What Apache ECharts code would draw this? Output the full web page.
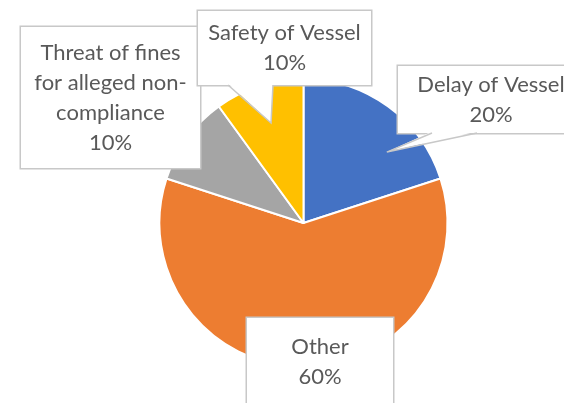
<!DOCTYPE html>
<html>
<head>
<meta charset="utf-8">
<script src="https://cdn.jsdelivr.net/npm/echarts@6/dist/echarts.min.js"></script>
<style>
  html, body { margin: 0; padding: 0; background: #fff; }
  #chart { width: 564px; height: 403px; }
</style>
</head>
<body>
<div id="chart"></div>
<script>
const categories = ["Delay of Vessel", "Other", "Threat of fines for alleged non-compliance", "Safety of Vessel"];
const labelTexts = ["Delay of Vessel", "Other", "Threat of fines\nfor alleged non-\ncompliance", "Safety of Vessel"];
const shares = [20, 60, 10, 10];
const colors = ["#4472C4", "#ED7D31", "#A5A5A5", "#FFC000"];

const CENTER = [303.5, 223];
const RADIUS = 144;
const LINE_H = 30;
const BOX_BORDER = "#C8C8C8";

// callout boxes (left, top, width, height, padding top/bottom) and pointer wedge
const callouts = [
  { left: 398, top: 66, w: 186, h: 67, pad: [5, 2], pointer: { turn: 13.6, depth: 0.76, base: [34, 79] } },
  { left: 247, top: 318, w: 146, h: 87, pad: [15, 12] },
  { left: 21, top: 27, w: 179, h: 141, pad: [16, 5] },
  { left: 198, top: 11, w: 173, h: 74, pad: [8, 6], pointer: { turn: 0, depth: 0.73, base: [30, 75] } }
];

// middle angle of each slice, starting at 12 o'clock going clockwise
const total = shares.reduce((a, b) => a + b, 0);
const midAngles = [];
shares.reduce((acc, v) => {
  midAngles.push(-Math.PI / 2 + 2 * Math.PI * (acc + v / 2) / total);
  return acc + v;
}, 0);

// callout wedges: white fill, grey sides, tip inside the slice
const pointers = [];
callouts.forEach((c, i) => {
  if (!c.pointer) return;
  const ang = midAngles[i] + c.pointer.turn * Math.PI / 180;
  const r = RADIUS * c.pointer.depth;
  const tip = [CENTER[0] + Math.cos(ang) * r, CENTER[1] + Math.sin(ang) * r];
  const bottom = c.top + c.h;
  const x0 = c.left + c.pointer.base[0];
  const x1 = c.left + c.pointer.base[1];
  pointers.push({
    type: "polygon",
    z: 100,
    silent: true,
    shape: { points: [[x0, bottom - 1.5], tip, [x1, bottom - 1.5]] },
    style: { fill: "#fff" }
  });
  pointers.push({
    type: "polyline",
    z: 101,
    silent: true,
    shape: { points: [[x0, bottom], tip, [x1, bottom]] },
    style: { stroke: BOX_BORDER, lineWidth: 1.5, fill: null }
  });
});

const chart = echarts.init(document.getElementById("chart"), null, { renderer: "canvas" });

const data = categories.map((name, i) => {
  const c = callouts[i];
  return {
    name: name,
    value: shares[i],
    itemStyle: { color: colors[i] },
    label: { width: c.w, padding: [c.pad[0], 0, c.pad[1], 0] }
  };
});

chart.setOption({
  backgroundColor: "#fff",
  animation: false,
  graphic: pointers,
  series: [
    {
      type: "pie",
      center: CENTER,
      radius: RADIUS,
      startAngle: 90,
      clockwise: true,
      avoidLabelOverlap: false,
      emphasis: { disabled: true },
      itemStyle: { borderColor: "#fff", borderWidth: 2 },
      label: {
        show: true,
        position: "outside",
        formatter: (p) => labelTexts[p.dataIndex] + "\n" + p.percent + "%",
        fontFamily: "Lato",
        fontSize: 22,
        lineHeight: LINE_H,
        color: "#595959",
        align: "center",
        overflow: "none",
        backgroundColor: "#fff",
        borderColor: BOX_BORDER,
        borderWidth: 1.5
      },
      labelLine: { show: false },
      labelLayout: function (params) {
        const c = callouts[params.dataIndex];
        return {
          x: c.left + c.w / 2,
          y: c.top + c.h / 2,
          align: "center",
          verticalAlign: "middle"
        };
      },
      data: data
    }
  ]
});
</script>
</body>
</html>
